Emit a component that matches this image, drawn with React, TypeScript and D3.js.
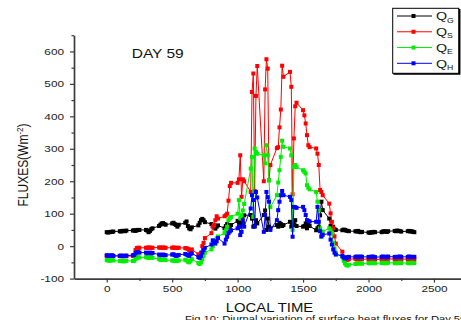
import { useRef, useEffect } from "react";
import * as d3 from "d3";

// local time, HHMM, 10 minute steps
const TIMES = [
  0, 10, 20, 30, 40, 50, 100, 110, 120, 130, 140, 150,
  200, 210, 220, 230, 240, 250, 300, 310, 320, 330, 340, 350,
  400, 410, 420, 430, 440, 450, 500, 510, 520, 530, 540, 550,
  600, 610, 620, 630, 640, 650, 700, 710, 720, 730, 740, 750,
  800, 810, 820, 830, 840, 850, 900, 910, 920, 930, 940, 950,
  1000, 1010, 1020, 1030, 1040, 1050, 1100, 1110, 1120, 1130, 1140, 1150,
  1200, 1210, 1220, 1230, 1240, 1250, 1300, 1310, 1320, 1330, 1340, 1350,
  1400, 1410, 1420, 1430, 1440, 1450, 1500, 1510, 1520, 1530, 1540, 1550,
  1600, 1610, 1620, 1630, 1640, 1650, 1700, 1710, 1720, 1730, 1740, 1750,
  1800, 1810, 1820, 1830, 1840, 1850, 1900, 1910, 1920, 1930, 1940, 1950,
  2000, 2010, 2020, 2030, 2040, 2050, 2100, 2110, 2120, 2130, 2140, 2150,
  2200, 2210, 2220, 2230, 2240, 2250, 2300, 2310, 2320, 2330, 2340, 2350,
];

const QG = [
  43, 42, 43, 44, 44, 45, 46, 45, 47, 47, 46, 48,
  48, 49, 47, 49, 50, 50, 50, 48, 43, 47, 52, 55,
  62, 66, 70, 71, 68, 66, 70, 72, 68, 65, 60, 66,
  72, 76, 62, 55, 52, 58, 64, 72, 80, 84, 80, 74,
  68, 62, 58, 54, 60, 64, 55, 62, 68, 60, 58, 65,
  78, 72, 60, 85, 70, 95, 96, 85, 60, 62, 80, 70,
  96, 110, 50, 85, 60, 55, 65, 60, 72, 68, 62, 65,
  75, 60, 70, 65, 80, 62, 60, 62, 70, 55, 68, 62,
  49, 55, 60, 95, 137, 111, 85, 62, 55, 60, 52, 50,
  49, 51, 50, 48, 47, 46, 46, 45, 47, 44, 43, 44,
  42, 41, 43, 42, 44, 43, 43, 45, 46, 45, 44, 46,
  47, 46, 48, 47, 46, 45, 46, 47, 45, 46, 44, 43,
];

const QS = [
  -30, -31, -30, -30, -31, -30, -30, -31, -31, -30, -30, -31,
  -30, -30, -12, -6, -5, -5, -5, -5, -4, -5, -5, -5,
  -4, -5, -5, -4, -5, -5, -5, -4, -5, -6, -5, -5,
  -6, -7, -8, -12, -16, -10, -25, -28, -20, 0, 10, 25,
  40, 60, 65, 80, 92, 85, 92, 95, 100, 140, 185, 195,
  195, 206, 280, 152, 206, 200, 167, 475, 532, 170, 463, 555,
  200, 483, 576, 547, 203, 250, 302, 305, 366, 421, 556, 522,
  537, 491, 160, 332, 431, 442, 419, 403, 378, 342, 311, 305,
  301, 285, 250, 173, 167, 157, 131, 101, 75, 55, 30, 8,
  -17, -33, -40, -43, -42, -40, -39, -40, -41, -40, -39, -40,
  -40, -41, -40, -39, -40, -41, -40, -39, -40, -41, -40, -39,
  -40, -41, -40, -40, -39, -40, -40, -41, -40, -39, -40, -40,
];

const QE = [
  -43, -44, -45, -44, -43, -44, -46, -45, -46, -47, -46, -45,
  -46, -45, -40, -35, -34, -35, -34, -35, -36, -35, -34, -36,
  -40, -42, -43, -42, -41, -43, -44, -45, -44, -46, -45, -44,
  -42, -44, -48, -50, -45, -40, -52, -55, -50, -40, -30, -20,
  -10, 0, 10, 18, 24, 30, 40, 49, 60, 80, 86, 90,
  100, 142, 86, 95, 110, 130, 239, 275, 90, 301, 290, 285,
  280, 255, 311, 280, 203, 120, 157, 196, 234, 275, 325, 306,
  301, 280, 50, 244, 250, 244, 234, 229, 224, 188, 180, 175,
  167, 137, 111, 55, 29, 45, 55, 48, 39, 10, -7, -20,
  -33, -45, -53, -58, -60, -57, -55, -53, -54, -52, -53, -54,
  -52, -53, -52, -51, -52, -53, -52, -51, -52, -53, -52, -51,
  -52, -53, -52, -52, -51, -52, -52, -53, -52, -51, -52, -52,
];

const QH = [
  -28, -29, -30, -29, -28, -30, -30, -29, -30, -31, -30, -29,
  -28, -27, -22, -19, -18, -20, -20, -22, -21, -20, -22, -21,
  -26, -27, -28, -26, -27, -28, -26, -25, -28, -30, -29, -27,
  -24, -26, -28, -30, -25, -22, -34, -36, -30, -20, -12, -5,
  5, 18, 12, 8, 15, 25, 8, 20, 29, 40, 45, 49,
  55, 60, 34, 44, 80, 60, 116, 157, 142, 60, 167, 150,
  44, 96, 167, 151, 137, 50, 80, 111, 137, 157, 170, 157,
  152, 142, 29, 121, 120, 118, 121, 111, 96, 80, 78, 76,
  75, 121, 75, 46, 30, 35, 39, 20, 5, -10, -20, -26,
  -30, -35, -38, -36, -34, -33, -33, -32, -34, -33, -32, -33,
  -33, -34, -33, -32, -33, -34, -33, -32, -33, -34, -33, -32,
  -33, -34, -33, -33, -32, -33, -33, -32, -33, -34, -33, -33,
];

const SERIES = [
  { sub: "G", values: QG, color: "#000000" },
  { sub: "S", values: QS, color: "#ff0000" },
  { sub: "E", values: QE, color: "#00ee00" },
  { sub: "H", values: QH, color: "#0000ff" },
];

const X_TICKS = [0, 500, 1000, 1500, 2000, 2500];
const X_MINOR = [250, 750, 1250, 1750, 2250, 2750];
const Y_TICKS = [-100, 0, 100, 200, 300, 400, 500, 600];
const Y_MINOR = [-50, 50, 150, 250, 350, 450, 550, 650];

const FONT = "'Liberation Sans', Arial, sans-serif";
const SX = 1.24; // the source figure is stretched sideways

const App = () => {
  const svgRef = useRef<SVGSVGElement | null>(null);

  useEffect(() => {
    document.body.style.margin = "0";
    const svg = d3.select(svgRef.current);
    svg.selectAll("*").remove();

    const x = d3.scaleLinear().domain([-250, 2750]).range([74, 466.7]);
    const y = d3.scaleLinear().domain([-100, 650]).range([278.6, 35.2]);
    const plain = (d: d3.NumberValue) => String(d);

    const stretch = (sel: any) =>
      sel.each(function (this: SVGTextElement) {
        const w = this.getComputedTextLength();
        d3.select(this).attr("textLength", w * SX).attr("lengthAdjust", "spacingAndGlyphs");
      });

    const axisColor = "#3c3c3c";

    // x axis
    const gx = svg.append("g").attr("transform", `translate(0,${y(-100)})`);
    gx.call(d3.axisBottom(x).tickValues(X_TICKS).tickFormat(plain).tickSize(4).tickPadding(3).tickSizeOuter(0));
    gx.append("g")
      .call(d3.axisBottom(x).tickValues(X_MINOR).tickSize(2.5).tickFormat(() => "").tickSizeOuter(0))
      .select(".domain").remove();

    // y axis
    const gy = svg.append("g").attr("transform", `translate(${x(-250)},0)`);
    gy.call(d3.axisLeft(y).tickValues(Y_TICKS).tickFormat(plain).tickSize(4).tickPadding(6).tickSizeOuter(0));
    gy.append("g")
      .call(d3.axisLeft(y).tickValues(Y_MINOR).tickSize(2.5).tickFormat(() => "").tickSizeOuter(0))
      .select(".domain").remove();

    svg.selectAll(".domain").attr("stroke", axisColor).attr("stroke-width", 1.7);
    svg.selectAll(".tick line").attr("stroke", axisColor).attr("stroke-width", 1.2);
    svg.selectAll(".tick text")
      .attr("font-family", FONT)
      .attr("font-size", 9.5)
      .attr("fill", "#222")
      .call(stretch);

    // series
    const line = d3
      .line<number>()
      .x((_, i) => x(TIMES[i]))
      .y((d) => y(d));

    SERIES.forEach((s) => {
      const g = svg.append("g");
      g.append("path")
        .attr("d", line(s.values))
        .attr("fill", "none")
        .attr("stroke", s.color)
        .attr("stroke-width", 1);
      g.selectAll("rect")
        .data(s.values)
        .join("rect")
        .attr("x", (_, i) => x(TIMES[i]) - 2)
        .attr("y", (d) => y(d) - 2)
        .attr("width", 4)
        .attr("height", 4)
        .attr("fill", s.color);
    });

    // texts
    svg.append("text")
      .attr("transform", `translate(131.7,58.3) scale(${SX},1)`)
      .attr("font-family", FONT)
      .attr("font-size", 12.5)
      .attr("fill", "#111")
      .text("DAY 59");

    svg.append("text")
      .attr("transform", `translate(269.5,312.2) scale(${SX},1)`)
      .attr("text-anchor", "middle")
      .attr("font-family", FONT)
      .attr("font-size", 12)
      .attr("fill", "#111")
      .text("LOCAL TIME");

    svg.append("text")
      .attr("transform", `translate(185,321.5) scale(${SX},1)`)
      .attr("font-family", FONT)
      .attr("font-size", 9)
      .attr("fill", "#111")
      .text("Fig 10: Diurnal variation of surface heat fluxes for Day 59");

    const yl = svg.append("text")
      .attr("transform", `translate(23,165) scale(${SX},1) rotate(-90)`)
      .attr("text-anchor", "middle")
      .attr("dy", "0.35em")
      .attr("font-family", FONT)
      .attr("font-size", 12)
      .attr("fill", "#111");
    yl.append("tspan").text("FLUXES(Wm");
    yl.append("tspan").attr("dy", -4.5).attr("font-size", 8).text("-2");
    yl.append("tspan").attr("dy", 4.5).text(")");

    // legend
    const lg = svg.append("g");
    lg.append("rect")
      .attr("x", 392.7).attr("y", 8.3).attr("width", 66).attr("height", 65)
      .attr("fill", "#fff").attr("stroke", "#000").attr("stroke-width", 1);
    lg.append("path")
      .attr("d", "M459.7,9 V74 H393.4")
      .attr("fill", "none").attr("stroke", "#000").attr("stroke-width", 1.5);
    const rowY = d3.scalePoint<string>().domain(SERIES.map((s) => s.sub)).range([16, 63.3]);
    SERIES.forEach((s) => {
      const cy = rowY(s.sub) as number;
      lg.append("line")
        .attr("x1", 397).attr("x2", 432).attr("y1", cy).attr("y2", cy)
        .attr("stroke", s.color).attr("stroke-width", 1);
      lg.append("rect")
        .attr("x", 411.5).attr("y", cy - 2).attr("width", 4).attr("height", 4)
        .attr("fill", s.color);
      const t = lg.append("text")
        .attr("transform", `translate(436,${cy + 4.2}) scale(${SX},1)`)
        .attr("font-family", FONT)
        .attr("font-size", 11.5)
        .attr("fill", "#111");
      t.append("tspan").text("Q");
      t.append("tspan").attr("dy", 2.5).attr("font-size", 7).text(s.sub);
    });
  }, []);

  return <svg ref={svgRef} width={461} height={320} style={{ display: "block", background: "#fff" }} />;
};

export default App;
